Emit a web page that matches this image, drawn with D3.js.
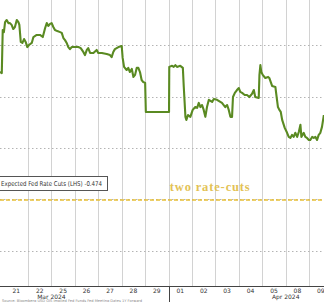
<!DOCTYPE html>
<html lang="en">

<head>
    <meta charset="UTF-8">
    <title>Expected Fed Rate Cuts</title>
    <script src="https://cdn.jsdelivr.net/npm/d3@7"></script>
    <style>
        html, body { margin: 0; padding: 0; background: #fff; overflow: hidden; }
        svg { display: block; }
    </style>
</head>

<body>
    <div id="container"></div>

    <script>
        // trading days on the x axis (weekends dropped)
        const dayLabels = ["21", "22", "25", "26", "27", "28", "29", "01", "02", "03", "04", "05", "08", "09"]
        const monthLabels = ["Mar 2024", "Apr 2024"]
        const monthLabelAt = [2.0, 12.0]   // in trading days
        const monthBreaks = [7]             // Apr starts at day index 7

        // time in trading days since Mar 21 open, value = expected cuts (LHS)
        const times = [
            -0.20, -0.12, -0.08, -0.03, 0.02, 0.09, 0.16, 0.23, 0.30, 0.37, 0.44, 0.52, 0.59, 0.63, 0.69, 0.76, 0.83, 0.90, 0.97,
            1.04, 1.16, 1.23, 1.37, 1.51, 1.63, 1.73, 1.80, 1.87, 1.94, 2.01, 2.08, 2.15, 2.25, 2.37, 2.44, 2.51, 2.58, 2.65,
            2.72, 2.79, 2.87, 3.01, 3.15, 3.25, 3.36, 3.43, 3.51, 3.57, 3.65, 3.79, 3.93, 4.00, 4.15, 4.36, 4.50, 4.57, 4.64,
            4.71, 4.86, 5.00, 5.04, 5.10, 5.21, 5.28, 5.35, 5.43, 5.50, 5.57, 5.64, 5.71, 5.78, 5.85, 5.92, 6.00, 6.03,
            7.02, 7.03, 7.15, 7.22, 7.29, 7.36, 7.50, 7.61, 7.65, 7.72, 7.76, 7.83, 7.93, 8.03, 8.14, 8.22, 8.29, 8.36, 8.43,
            8.50, 8.57, 8.64, 8.72, 8.86, 8.93, 9.07, 9.21, 9.28, 9.42, 9.50, 9.57, 9.64, 9.71, 9.75, 9.83, 9.92, 10.00,
            10.06, 10.14, 10.25, 10.35, 10.45, 10.56, 10.64, 10.70, 10.85, 10.88, 10.92, 10.96, 11.02, 11.13, 11.25, 11.30,
            11.42, 11.56, 11.63, 11.67, 11.73, 11.79, 11.85, 11.96, 12.06, 12.13, 12.20, 12.27, 12.34, 12.41, 12.49, 12.56,
            12.63, 12.67, 12.77, 12.84, 12.91, 12.99, 13.05, 13.13, 13.20, 13.27, 13.34, 13.41, 13.48, 13.55, 13.63
        ]
        const values = [
            -0.4505, -0.4509, -0.4342, -0.4350, -0.4311, -0.4303, -0.4315, -0.4315, -0.4322, -0.4338, -0.4330, -0.4303, -0.4311, -0.4322, -0.4388, -0.4392, -0.4377, -0.4388, -0.4408,
            -0.4400, -0.4392, -0.4369, -0.4361, -0.4361, -0.4369, -0.4334, -0.4315, -0.4326, -0.4318, -0.4315, -0.4330, -0.4342, -0.4346, -0.4350, -0.4353, -0.4373, -0.4381, -0.4392,
            -0.4408, -0.4416, -0.4408, -0.4408, -0.4408, -0.4412, -0.4427, -0.4439, -0.4419, -0.4412, -0.4431, -0.4431, -0.4419, -0.4431, -0.4431, -0.4435, -0.4439, -0.4447, -0.4427,
            -0.4416, -0.4408, -0.4404, -0.4450, -0.4485, -0.4497, -0.4489, -0.4505, -0.4493, -0.4524, -0.4516, -0.4489, -0.4489, -0.4505, -0.4536, -0.4544, -0.4547, -0.4660,
            -0.4660, -0.4485, -0.4481, -0.4485, -0.4478, -0.4485, -0.4481, -0.4489, -0.4563, -0.4679, -0.4691, -0.4672, -0.4679, -0.4652, -0.4641, -0.4644, -0.4625, -0.4641, -0.4633,
            -0.4652, -0.4679, -0.4641, -0.4613, -0.4621, -0.4610, -0.4613, -0.4621, -0.4625, -0.4641, -0.4633, -0.4652, -0.4679, -0.4679, -0.4602, -0.4586, -0.4575, -0.4567,
            -0.4582, -0.4586, -0.4594, -0.4594, -0.4602, -0.4590, -0.4575, -0.4602, -0.4606, -0.4516, -0.4478, -0.4505, -0.4516, -0.4528, -0.4524, -0.4528,
            -0.4559, -0.4563, -0.4613, -0.4641, -0.4652, -0.4660, -0.4691, -0.4722, -0.4741, -0.4757, -0.4761, -0.4749, -0.4757, -0.4741, -0.4757, -0.4738,
            -0.4710, -0.4757, -0.4741, -0.4757, -0.4761, -0.4769, -0.4769, -0.4757, -0.4761, -0.4757, -0.4769, -0.4749, -0.4741, -0.4718, -0.4672
        ]

        const yGrid = [-0.52, -0.50, -0.48, -0.46, -0.44]
        const twoCuts = -0.50
        const lastValue = -0.474

        const width = 324
        const height = 302
        const axisY = 286

        const svg = d3.select('#container').append('svg')
            .attr('width', width)
            .attr('height', height)

        const x = d3.scaleLinear().domain([0, 13]).range([4.6, 309.1])
        const y = d3.scaleLinear().domain([-0.52, -0.44]).range([251, 45])

        // vertical day gridlines
        const dayBounds = d3.range(1, dayLabels.length)
        svg.append('g')
            .selectAll('line')
            .data(dayBounds)
            .join('line')
            .attr('x1', d => Math.round(x(d)) + 0.5)
            .attr('x2', d => Math.round(x(d)) + 0.5)
            .attr('y1', 0)
            .attr('y2', axisY)
            .attr('stroke', '#d2d2d2')
            .attr('stroke-width', 1)

        // dotted horizontal gridlines
        svg.append('g')
            .selectAll('line')
            .data(yGrid)
            .join('line')
            .attr('x1', 0)
            .attr('x2', width)
            .attr('y1', d => Math.round(y(d)) + 0.5)
            .attr('y2', d => Math.round(y(d)) + 0.5)
            .attr('stroke', '#b4b4b4')
            .attr('stroke-width', 1)
            .attr('stroke-dasharray', '1.5,2.5')

        // two rate-cuts reference
        svg.append('line')
            .attr('x1', 0)
            .attr('x2', width)
            .attr('y1', y(twoCuts) + 0.5)
            .attr('y2', y(twoCuts) + 0.5)
            .attr('stroke', '#e6bf36')
            .attr('stroke-width', 1.6)
            .attr('stroke-dasharray', '4,2')

        svg.append('text')
            .attr('x', x(7.05))
            .attr('y', y(twoCuts) - 9)
            .attr('font-family', 'Liberation Serif, DejaVu Serif, serif')
            .attr('font-size', 12.5)
            .attr('font-weight', 'bold')
            .attr('fill', '#e3c256')
            .attr('textLength', 80)
            .attr('lengthAdjust', 'spacing')
            .text('two rate-cuts')

        // the series
        const points = times.map((t, i) => [t, values[i]])
        const line = d3.line()
            .x(d => x(d[0]))
            .y(d => y(d[1]))

        svg.append('path')
            .datum(points)
            .attr('d', line)
            .attr('fill', 'none')
            .attr('stroke', '#5a8a22')
            .attr('stroke-width', 2.1)
            .attr('stroke-linejoin', 'round')

        // legend box
        const legend = svg.append('g').attr('transform', 'translate(-1,176)')
        legend.append('rect')
            .attr('x', 0.5)
            .attr('y', 0.5)
            .attr('width', 108)
            .attr('height', 14)
            .attr('fill', '#fff')
            .attr('stroke', '#555')
            .attr('stroke-width', 1)
        legend.append('text')
            .attr('x', 2)
            .attr('y', 10)
            .attr('font-family', 'DejaVu Sans, sans-serif')
            .attr('font-size', 6.6)
            .attr('fill', '#333')
            .attr('textLength', 101)
            .attr('lengthAdjust', 'spacingAndGlyphs')
            .text(`Expected Fed Rate Cuts (LHS)  ${lastValue.toFixed(3)}`)

        // x axis
        svg.append('line')
            .attr('x1', 0)
            .attr('x2', width)
            .attr('y1', axisY + 0.5)
            .attr('y2', axisY + 0.5)
            .attr('stroke', '#444')

        svg.append('g')
            .selectAll('line')
            .data(monthBreaks)
            .join('line')
            .attr('x1', d => Math.round(x(d)) + 0.5)
            .attr('x2', d => Math.round(x(d)) + 0.5)
            .attr('y1', axisY)
            .attr('y2', height)
            .attr('stroke', '#444')

        svg.append('g')
            .selectAll('text')
            .data(dayLabels)
            .join('text')
            .attr('x', (d, i) => x(i + 0.5))
            .attr('y', axisY + 7)
            .attr('text-anchor', 'middle')
            .attr('font-family', 'DejaVu Sans, sans-serif')
            .attr('font-size', 6)
            .attr('fill', '#333')
            .text(d => d)

        svg.append('g')
            .selectAll('text')
            .data(monthLabels)
            .join('text')
            .attr('x', (d, i) => x(monthLabelAt[i]))
            .attr('y', axisY + 12.5)
            .attr('text-anchor', 'middle')
            .attr('font-family', 'DejaVu Sans, sans-serif')
            .attr('font-size', 6)
            .attr('fill', '#333')
            .text(d => d)

        // source line along the bottom edge
        svg.append('text')
            .attr('x', 2)
            .attr('y', height - 0.3)
            .attr('font-family', 'DejaVu Sans, sans-serif')
            .attr('font-size', 3.6)
            .attr('fill', '#888')
            .text('Source: Bloomberg   USD OIS Implied Fed Funds   Fed Meeting Dates   1Y Forward')
    </script>
</body>

</html>
